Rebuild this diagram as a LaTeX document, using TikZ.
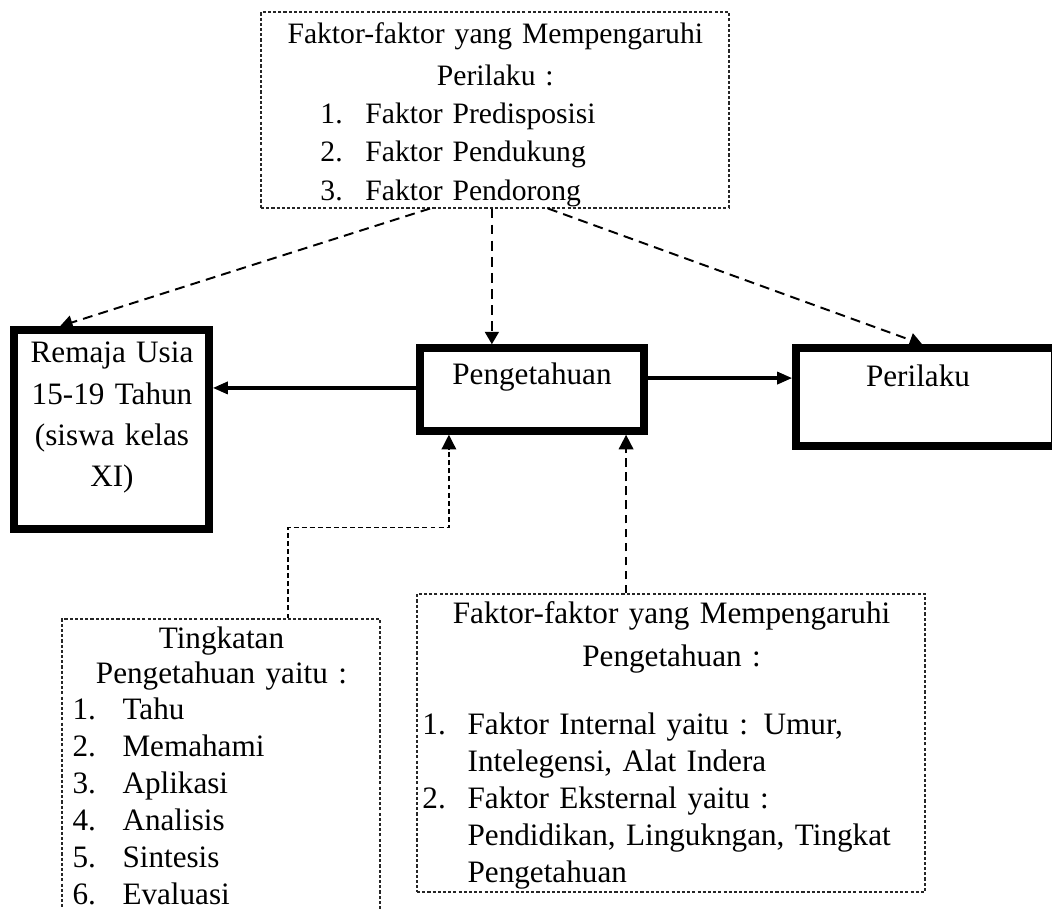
\documentclass[tikz,border=0pt]{standalone}
\usepackage{fontspec}
\setmainfont{Liberation Serif}
\usetikzlibrary{arrows.meta,fit}

\tikzset{
  thickbox/.style={draw, line width=2.9pt, inner sep=0pt},
  dotbox/.style={draw=black!85, line width=0.4pt, dash pattern=on 1.2pt off 0.8pt, inner sep=0pt},
  txt/.style={inner sep=0pt, font=\fontsize{12pt}{14.2pt}\selectfont},
  solidarr/.style={line width=1.35pt, -{Triangle[length=5.8pt,width=4.6pt]}},
  dasharr/.style={line width=0.75pt, dash pattern=on 3.8pt off 2.4pt, -{Triangle[length=4.8pt,width=5.4pt]}},
  thinarr/.style={line width=0.5pt, dash pattern=on 1.9pt off 1.2pt, -{Triangle[length=5.6pt,width=5.6pt]}},
  widearr/.style={line width=0.75pt, dash pattern=on 3.4pt off 2pt, -{Triangle[length=5.6pt,width=5.6pt]}}
}
\newcommand{\numitem}[3]{\noindent\llap{\makebox[#1][l]{#2}}#3\par}

\begin{document}
\begin{tikzpicture}[x=0.385pt,y=-0.385pt]
  \clip (0,0) rectangle (1052,909);

  % boxes
  \node[dotbox, fit={(261,12) (729,208)}] (faktorperilaku) {};
  \node[thickbox, fit={(14,330) (209,529)}] (remaja) {};
  \node[thickbox, fit={(420,348) (644,431)}] (peng) {};
  \node[thickbox, fit={(796,348) (1055,446)}] (perilaku) {};
  \node[dotbox, fit={(62,619) (380,960)}] (tingkatan) {};
  \node[dotbox, fit={(417,594) (925,892)}] (faktorpeng) {};

  % texts
  \node[txt, font=\fontsize{11.4pt}{14.8pt}\selectfont, text width=180pt, anchor=base west]
    (faktorperilakutxt) at (261,44) {%
    {\centering Faktor-faktor yang Mempengaruhi\\[1pt] Perilaku :\par}
    \leftskip=40pt
    \numitem{17.3pt}{1.}{Faktor Predisposisi}
    \numitem{17.3pt}{2.}{Faktor Pendukung}
    \numitem{17.3pt}{3.}{Faktor Pendorong}};
  \node[txt, font=\fontsize{12pt}{15.8pt}\selectfont, text width=75pt, align=center, anchor=base]
    (remajatxt) at (112,363) {Remaja Usia\\ 15-19 Tahun\\ (siswa kelas\\ XI)};
  \node[txt, anchor=base] (pengtxt) at (532,385) {Pengetahuan};
  \node[txt, anchor=base] (perilakutxt) at (918,387) {Perilaku};
  \node[txt, text width=122.4pt, anchor=base west] (tingkatantxt) at (62,648) {%
    {\centering Tingkatan\\[-0.7pt] Pengetahuan yaitu :\par}
    \leftskip=23.1pt
    \numitem{19.2pt}{1.}{Tahu}
    \numitem{19.2pt}{2.}{Memahami}
    \numitem{19.2pt}{3.}{Aplikasi}
    \numitem{19.2pt}{4.}{Analisis}
    \numitem{19.2pt}{5.}{Sintesis}
    \numitem{19.2pt}{6.}{Evaluasi}};
  \node[txt, text width=195.6pt, anchor=base west] (faktorpengtxt) at (417,623) {%
    {\centering Faktor-faktor yang Mempengaruhi\\[2.7pt] Pengetahuan :\par}
    \vspace{12pt}
    \leftskip=19.3pt
    \numitem{17.4pt}{1.}{Faktor Internal yaitu : Umur,\\ Intelegensi, Alat Indera}
    \numitem{17.4pt}{2.}{Faktor Eksternal yaitu :\\ Pendidikan, Lingukngan, Tingkat\\ Pengetahuan}};

  % connectors
  \draw[solidarr] ([yshift=0.6pt]peng.west) -- ([yshift=0.6pt]peng.west -| remaja.east);
  \draw[solidarr] ([yshift=4.4pt]peng.east) -- ([yshift=4.4pt]peng.east -| perilaku.west);
  \draw[dasharr] ([xshift=-25pt]faktorperilaku.south) -- ([xshift=-19.8pt]remaja.north);
  \draw[dasharr] ([xshift=-1.2pt]faktorperilaku.south) -- ([xshift=-1.2pt]faktorperilaku.south |- peng.north);
  \draw[dasharr] ([xshift=20.4pt]faktorperilaku.south) -- ([xshift=-1.3pt]perilaku.north);
  \draw[thinarr] ([xshift=25.8pt]tingkatan.north) -- ++(0,-91) -| ([xshift=-32pt]peng.south);
  \draw[widearr] ([xshift=-17.3pt]faktorpeng.north) -- ([xshift=-17.3pt]faktorpeng.north |- peng.south);
\end{tikzpicture}
\end{document}
